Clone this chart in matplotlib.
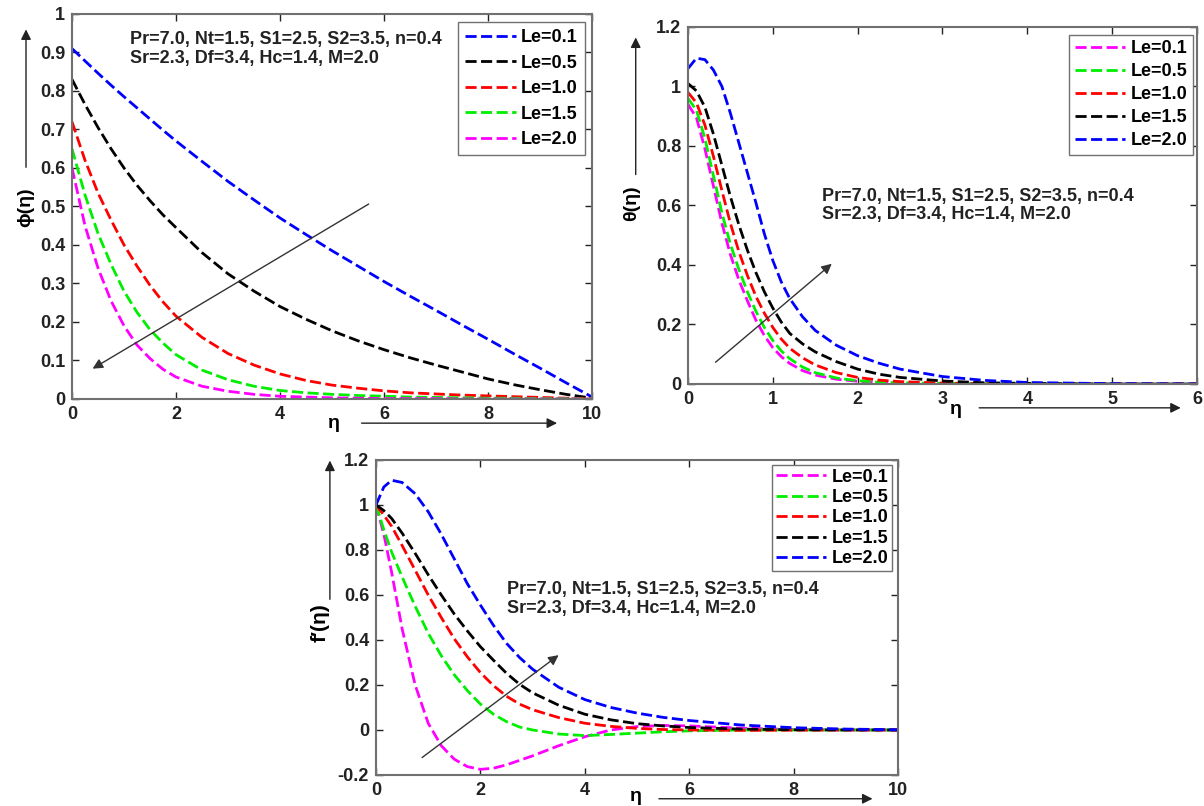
import matplotlib.pyplot as plt
from matplotlib.patches import FancyArrowPatch

plt.rcParams['font.family'] = ['Liberation Sans', 'DejaVu Sans']
plt.rcParams['font.weight'] = 'bold'

# concentration phi(eta), Le = 0.1 ... 2.0
eta_phi = [0, 0.25, 0.5, 0.75, 1, 1.25, 1.5, 1.75, 2, 2.5, 3, 3.5, 4, 4.5, 5, 5.5, 6, 6.5, 7, 7.5, 8, 8.5, 9, 9.5, 10]
phi_01 = [0.91, 0.878, 0.846, 0.815, 0.785, 0.756, 0.727, 0.698, 0.67, 0.617, 0.565, 0.517, 0.47, 0.427, 0.385,
          0.345, 0.305, 0.267, 0.23, 0.192, 0.155, 0.117, 0.08, 0.042, 0.005]
phi_05 = [0.83, 0.765, 0.705, 0.65, 0.60, 0.555, 0.515, 0.478, 0.445, 0.38, 0.325, 0.28, 0.24, 0.207, 0.177,
          0.151, 0.128, 0.107, 0.088, 0.07, 0.052, 0.037, 0.024, 0.012, 0.002]
phi_10 = [0.72, 0.62, 0.535, 0.465, 0.40, 0.345, 0.295, 0.252, 0.215, 0.16, 0.118, 0.088, 0.065, 0.048, 0.036,
          0.028, 0.021, 0.016, 0.013, 0.01, 0.008, 0.006, 0.004, 0.002, 0.001]
phi_15 = [0.65, 0.53, 0.43, 0.35, 0.28, 0.225, 0.18, 0.145, 0.115, 0.075, 0.05, 0.033, 0.022, 0.016, 0.012,
          0.009, 0.007, 0.005, 0.004, 0.003, 0.002, 0.002, 0.001, 0.001, 0.0]
phi_20 = [0.60, 0.45, 0.34, 0.255, 0.19, 0.14, 0.105, 0.077, 0.057, 0.033, 0.02, 0.012, 0.007, 0.005, 0.003,
          0.002, 0.001, 0.001, 0.001, 0.0, 0.0, 0.0, 0.0, 0.0, 0.0]

# temperature theta(eta)
eta_th = [0, 0.1, 0.2, 0.3, 0.4, 0.5, 0.6, 0.7, 0.8, 0.9, 1.0, 1.1, 1.2, 1.35, 1.5, 1.75, 2.0, 2.25, 2.5, 3.0, 3.5, 4.0, 5.0, 6.0]
th_01 = [0.94, 0.895, 0.79, 0.665, 0.54, 0.435, 0.35, 0.28, 0.215, 0.163, 0.122, 0.092, 0.069, 0.045, 0.03, 0.016,
         0.009, 0.005, 0.003, 0.001, 0.0, 0.0, 0.0, 0.0]
th_05 = [0.96, 0.92, 0.825, 0.70, 0.575, 0.47, 0.385, 0.31, 0.245, 0.19, 0.146, 0.111, 0.085, 0.057, 0.038, 0.02,
         0.011, 0.006, 0.004, 0.002, 0.001, 0.0, 0.0, 0.0]
th_10 = [0.98, 0.945, 0.87, 0.765, 0.65, 0.54, 0.445, 0.365, 0.295, 0.238, 0.19, 0.151, 0.12, 0.088, 0.064, 0.038,
         0.022, 0.013, 0.008, 0.003, 0.001, 0.0, 0.0, 0.0]
th_15 = [1.01, 0.985, 0.93, 0.84, 0.735, 0.63, 0.535, 0.45, 0.375, 0.31, 0.255, 0.208, 0.17, 0.135, 0.108, 0.075,
         0.05, 0.033, 0.022, 0.01, 0.004, 0.002, 0.0, 0.0]
th_20 = [1.06, 1.095, 1.09, 1.055, 1.0, 0.91, 0.81, 0.71, 0.61, 0.505, 0.415, 0.343, 0.287, 0.226, 0.18, 0.13,
         0.095, 0.07, 0.05, 0.025, 0.012, 0.005, 0.001, 0.0]

# velocity f'(eta)
eta_f = [0, 0.15, 0.3, 0.5, 0.75, 1, 1.25, 1.5, 1.75, 2, 2.25, 2.5, 2.75, 3, 3.5, 4, 4.5, 5, 5.5, 6, 7, 8, 9, 10]
f_01 = [1.0, 0.87, 0.70, 0.45, 0.20, 0.03, -0.07, -0.13, -0.163, -0.175, -0.17, -0.155, -0.135, -0.115,
        -0.07, -0.03, 0.0, 0.015, 0.02, 0.018, 0.008, 0.002, 0.0, 0.0]
f_05 = [1.0, 0.89, 0.79, 0.68, 0.55, 0.43, 0.33, 0.245, 0.175, 0.115, 0.07, 0.037, 0.013, 0.0,
        -0.018, -0.025, -0.02, -0.014, -0.008, -0.004, 0.0, 0.0, 0.0, 0.0]
f_10 = [1.0, 0.955, 0.905, 0.82, 0.71, 0.60, 0.50, 0.405, 0.325, 0.255, 0.197, 0.15, 0.115, 0.09,
        0.055, 0.03, 0.016, 0.007, 0.002, 0.0, -0.002, -0.001, 0.0, 0.0]
f_15 = [1.0, 0.975, 0.94, 0.875, 0.785, 0.69, 0.60, 0.515, 0.44, 0.37, 0.31, 0.252, 0.203, 0.165,
        0.11, 0.07, 0.045, 0.028, 0.018, 0.011, 0.004, 0.001, 0.0, 0.0]
f_20 = [1.0, 1.08, 1.11, 1.10, 1.05, 0.97, 0.87, 0.76, 0.65, 0.555, 0.465, 0.385, 0.322, 0.27,
        0.19, 0.135, 0.1, 0.075, 0.056, 0.042, 0.022, 0.01, 0.004, 0.001]

labels = ['Le=0.1', 'Le=0.5', 'Le=1.0', 'Le=1.5', 'Le=2.0']
params = 'Pr=7.0, Nt=1.5, S1=2.5, S2=3.5, n=0.4\nSr=2.3, Df=3.4, Hc=1.4, M=2.0'
green = '#00ee00'
dash = (4, 1.6)

fig = plt.figure(figsize=(12.04, 8.06), dpi=100)


def style(ax):
    ax.tick_params(direction='in', top=True, right=True, labelsize=13, length=5, width=1, pad=5, colors='#222222')
    for lbl in ax.get_xticklabels() + ax.get_yticklabels():
        lbl.set_fontweight('bold')
    for s in ax.spines.values():
        s.set_color('#707070')
        s.set_linewidth(1.5)


def add_legend(ax, anchor, spacing, bpad):
    ax.legend(loc='upper right', bbox_to_anchor=anchor, borderaxespad=0, prop={'weight': 'bold', 'size': 13},
              handlelength=2.8, handletextpad=0.3, labelspacing=spacing, borderpad=bpad,
              fancybox=False, edgecolor='#707070', framealpha=1)


def fig_arrow(x0, y0, x1, y1):
    fig.add_artist(FancyArrowPatch((x0, y0), (x1, y1), transform=fig.transFigure, arrowstyle='-|>',
                                   mutation_scale=15, color='#222222', lw=1.0))


def in_arrow(ax, tail, head):
    ax.annotate('', xy=head, xytext=tail,
                arrowprops=dict(arrowstyle='-|>', color='#333333', lw=1.0, mutation_scale=15))


# ---- top left: phi
ax1 = fig.add_axes([0.0598, 0.505, 0.432, 0.4777])
for y, c, lb in zip([phi_01, phi_05, phi_10, phi_15, phi_20], ['blue', 'black', 'red', green, 'magenta'], labels):
    ax1.plot(eta_phi, y, '--', color=c, lw=2, dashes=dash, label=lb)
ax1.set_xlim(0, 10)
ax1.set_ylim(0, 1)
ax1.set_xticks([0, 2, 4, 6, 8, 10])
ax1.set_yticks([0, 0.1, 0.2, 0.3, 0.4, 0.5, 0.6, 0.7, 0.8, 0.9, 1])
ax1.set_yticklabels(['0', '0.1', '0.2', '0.3', '0.4', '0.5', '0.6', '0.7', '0.8', '0.9', '1'])
style(ax1)
add_legend(ax1, (0.9865, 0.979), 0.47, 0.4)
ax1.text(1.12, 0.955, params, fontsize=13, fontweight='bold', va='top', linespacing=1.1, color='#222222')
in_arrow(ax1, (5.75, 0.51), (0.35, 0.075))
fig.text(0.021, 0.743, 'ϕ(η)', rotation=90, fontsize=14, fontweight='bold', ha='center', va='center')
fig_arrow(0.0216, 0.789, 0.0216, 0.967)
fig.text(0.277, 0.475, 'η', fontsize=14, fontweight='bold', ha='center', va='center')
fig_arrow(0.298, 0.475, 0.465, 0.475)

# ---- top right: theta
ax2 = fig.add_axes([0.5714, 0.5236, 0.4228, 0.443])
for y, c, lb in zip([th_01, th_05, th_10, th_15, th_20], ['magenta', green, 'red', 'black', 'blue'], labels):
    ax2.plot(eta_th, y, '--', color=c, lw=2, dashes=dash, label=lb)
ax2.set_xlim(0, 6)
ax2.set_ylim(0, 1.2)
ax2.set_xticks([0, 1, 2, 3, 4, 5, 6])
ax2.set_yticks([0, 0.2, 0.4, 0.6, 0.8, 1.0, 1.2])
ax2.set_yticklabels(['0', '0.2', '0.4', '0.6', '0.8', '1', '1.2'])
style(ax2)
add_legend(ax2, (0.992, 0.9776), 0.33, 0.3)
ax2.text(1.58, 0.66, params, fontsize=13, fontweight='bold', va='top', linespacing=1.1, color='#222222')
in_arrow(ax2, (0.3, 0.067), (1.72, 0.41))
fig.text(0.525, 0.748, 'θ(η)', rotation=90, fontsize=14, fontweight='bold', ha='center', va='center')
fig_arrow(0.528, 0.780, 0.528, 0.957)
fig.text(0.794, 0.492, 'η', fontsize=14, fontweight='bold', ha='center', va='center')
fig_arrow(0.811, 0.494, 0.983, 0.494)

# ---- bottom: f'
ax3 = fig.add_axes([0.3123, 0.0385, 0.4336, 0.3908])
for y, c, lb in zip([f_01, f_05, f_10, f_15, f_20], ['magenta', green, 'red', 'black', 'blue'], labels):
    ax3.plot(eta_f, y, '--', color=c, lw=2, dashes=dash, label=lb)
ax3.set_xlim(0, 10)
ax3.set_ylim(-0.2, 1.2)
ax3.set_xticks([0, 2, 4, 6, 8, 10])
ax3.set_yticks([-0.2, 0, 0.2, 0.4, 0.6, 0.8, 1.0, 1.2])
ax3.set_yticklabels(['-0.2', '0', '0.2', '0.4', '0.6', '0.8', '1', '1.2'])
style(ax3)
add_legend(ax3, (0.9885, 0.984), 0.19, 0.2)
ax3.text(2.5, 0.66, params, fontsize=13, fontweight='bold', va='top', linespacing=1.1, color='#222222')
in_arrow(ax3, (0.84, -0.13), (3.54, 0.34))
fig.text(0.266, 0.228, "f′(η)", rotation=90, fontsize=15, fontweight='bold', ha='center', va='center')
fig_arrow(0.274, 0.253, 0.274, 0.432)
fig.text(0.528, 0.012, 'η', fontsize=14, fontweight='bold', ha='center', va='center')
fig_arrow(0.545, 0.009, 0.727, 0.009)

fig.savefig('out.png', dpi=100)
